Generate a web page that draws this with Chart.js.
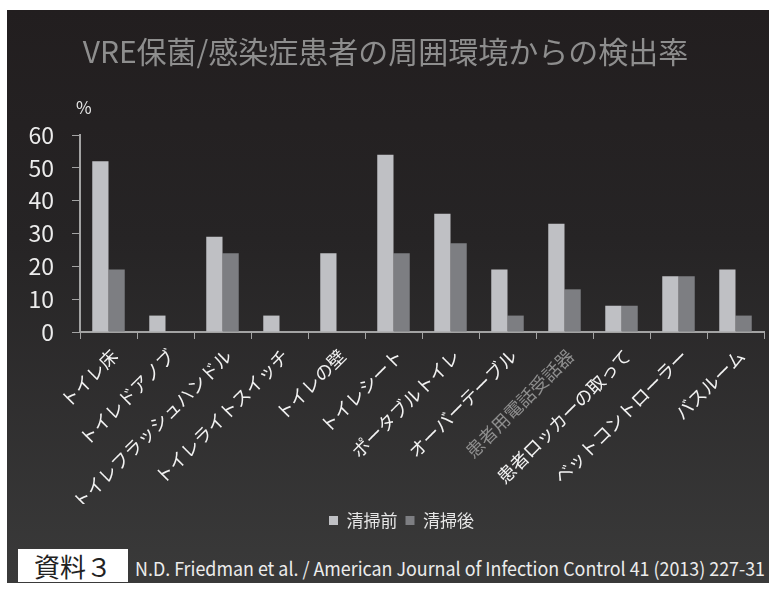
<!DOCTYPE html>
<html lang="ja">
  <head>
    <meta charset="UTF-8" />
    <title>VRE保菌/感染症患者の周囲環境からの検出率</title>
    <script src="https://cdn.jsdelivr.net/npm/chart.js"></script>
    <style>
      body {
        margin: 0;
        width: 771px;
        height: 589px;
        background: #ffffff;
        position: relative;
        overflow: hidden;
        font-family: "Noto Sans CJK JP", "Noto Sans", sans-serif;
      }
      #panel {
        position: absolute;
        left: 7px;
        top: 10px;
        width: 762px;
        height: 573px;
        background: linear-gradient(#221e1f, #262425 40%, #3a3a3a);
      }
      #chartBox {
        position: absolute;
        left: 0;
        top: 0;
        width: 762px;
        height: 535px;
      }
      #unit {
        position: absolute;
        left: 69px;
        top: 84px;
        color: #e6e6e6;
        font-size: 17px;
      }
      #tag {
        position: absolute;
        left: 11px;
        top: 539px;
        width: 110px;
        height: 33px;
        background: #ffffff;
        color: #222;
        font-size: 26px;
        line-height: 33px;
        text-align: center;
      }
      #cite {
        position: absolute;
        left: 128px;
        top: 544px;
        color: #ececec;
        font-size: 19px;
        white-space: nowrap;
        transform-origin: left center;
      }
    </style>
  </head>
  <body>
    <div id="panel">
      <div id="chartBox"><canvas id="chart"></canvas></div>
      <div id="unit">%</div>
      <div id="tag">資料３</div>
      <div id="cite">N.D. Friedman et al. / American Journal of Infection Control 41 (2013) 227-31</div>
    </div>

    <script>
      // data (%)
      const categories = [
        "トイレ床",
        "トイレドアノブ",
        "トイレフラッシュハンドル",
        "トイレライトスイッチ",
        "トイレの壁",
        "トイレシート",
        "ポータブルトイレ",
        "オーバーテーブル",
        "患者用電話受話器",
        "患者ロッカーの取って",
        "ベットコントローラー",
        "バスルーム",
      ];
      const beforeCleaning = [52, 5, 29, 5, 24, 54, 36, 19, 33, 8, 17, 19];
      const afterCleaning = [19, 0, 24, 0, 0, 24, 27, 5, 13, 8, 17, 5];
      const yTicks = [0, 10, 20, 30, 40, 50, 60];

      const axisColor = "#a3a3a3";
      Chart.defaults.font.family = '"Noto Sans CJK JP", "Noto Sans", sans-serif';

      // legend sits a little right of centre in the original
      const legendShift = {
        id: "legendShift",
        afterLayout(chart) {
          chart.legend.left += 16;
          chart.legend.right += 16;
        },
      };

      const ctx = document.getElementById("chart").getContext("2d");
      new Chart(ctx, {
        type: "bar",
        data: {
          labels: categories,
          datasets: [
            {
              label: "清掃前",
              data: beforeCleaning,
              backgroundColor: "#bfc0c4",
              categoryPercentage: 0.57,
              barPercentage: 1,
            },
            {
              label: "清掃後",
              data: afterCleaning,
              backgroundColor: "#7d7e82",
              categoryPercentage: 0.57,
              barPercentage: 1,
            },
          ],
        },
        options: {
          responsive: true,
          maintainAspectRatio: false,
          animation: false,
          layout: { padding: { left: 0, right: 5, top: 0, bottom: 6 } },
          plugins: {
            title: {
              display: true,
              text: "VRE保菌/感染症患者の周囲環境からの検出率",
              color: "#8e8e8e",
              font: { size: 30, weight: "normal" },
              padding: { top: 24, bottom: 65 },
            },
            legend: {
              position: "bottom",
              labels: {
                color: "#e6e6e6",
                font: { size: 17 },
                boxWidth: 9,
                boxHeight: 9,
                padding: 8,
              },
            },
            tooltip: { enabled: false },
          },
          scales: {
            x: {
              grid: {
                drawOnChartArea: false,
                color: axisColor,
                tickLength: 7,
                offset: true,
              },
              border: { color: axisColor, width: 2 },
              ticks: {
                autoSkip: false,
                minRotation: 45,
                maxRotation: 45,
                padding: 6,
                labelOffset: 6,
                font: { size: 18 },
                color: (c) => (c.index === 8 ? "#8e8e8e" : "#f2f2f2"),
              },
              afterFit: (scale) => {
                scale.height = 172;
              },
            },
            y: {
              min: 0,
              max: 60,
              grid: {
                drawOnChartArea: false,
                color: axisColor,
                tickLength: 8,
              },
              border: { color: axisColor, width: 2 },
              afterBuildTicks: (scale) => {
                scale.ticks = yTicks.map((v) => ({ value: v }));
              },
              ticks: {
                color: "#ececec",
                font: { size: 23 },
                padding: 18,
              },
              afterFit: (scale) => {
                scale.width = 73;
              },
            },
          },
        },
        plugins: [legendShift],
      });

      // squeeze the citation into the width it has in the picture
      const cite = document.getElementById("cite");
      const w = cite.getBoundingClientRect().width;
      cite.style.transform = "scaleX(" + 630 / w + ")";
    </script>
  </body>
</html>
